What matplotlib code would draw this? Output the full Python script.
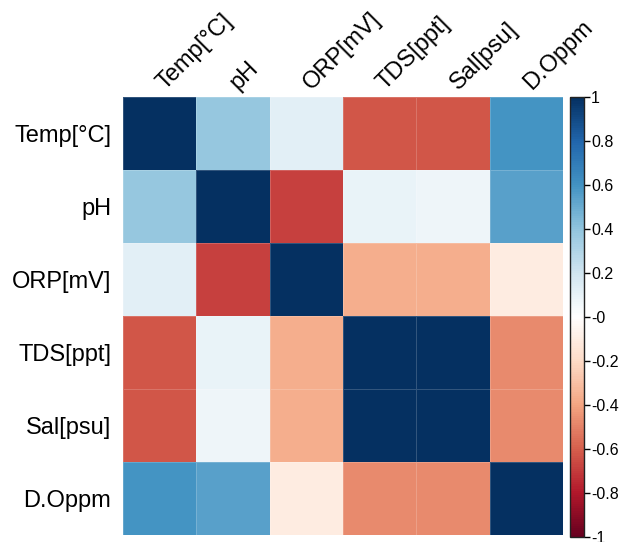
import numpy as np
import matplotlib
matplotlib.use("Agg")
import matplotlib.pyplot as plt
from matplotlib.colors import LinearSegmentedColormap

plt.rcParams['font.family'] = ['Liberation Sans', 'DejaVu Sans']

variables = ["Temp[°C]", "pH", "ORP[mV]", "TDS[ppt]", "Sal[psu]", "D.Oppm"]

# upper-triangle correlations, row by row
temp_row = [0.38, 0.13, -0.63, -0.63, 0.59]
ph_row = [-0.69, 0.09, 0.07, 0.54]
orp_row = [-0.37, -0.37, -0.11]
tds_row = [1.0, -0.48]
sal_row = [-0.48]

n = len(variables)
corr = np.eye(n)
for i, row in enumerate([temp_row, ph_row, orp_row, tds_row, sal_row]):
    for k, v in enumerate(row):
        j = i + 1 + k
        corr[i, j] = v
        corr[j, i] = v

ramp = ["#67001F", "#B2182B", "#D6604D", "#F4A582", "#FDDBC7", "#FFFFFF",
        "#D1E5F0", "#92C5DE", "#4393C3", "#2166AC", "#053061"]
cmap = LinearSegmentedColormap.from_list("corr_rdbu", ramp, N=200)

fig = plt.figure(figsize=(6.23, 5.42), dpi=100)
ax = fig.add_axes([123 / 623, 1 - 535 / 542, 440 / 623, 438 / 542])
im = ax.pcolormesh(np.arange(n + 1) - 0.5, np.arange(n + 1) - 0.5, corr,
                   cmap=cmap, vmin=-1, vmax=1,
                   edgecolors=(1, 1, 1, 0.18), linewidth=0.5)
ax.set_xlim(-0.5, n - 0.5)
ax.set_ylim(n - 0.5, -0.5)

ax.set_yticks(range(n))
ax.set_yticklabels(variables, fontsize=17)
ax.tick_params(axis="y", length=0, pad=8.5)
ax.set_xticks([])
for s in ax.spines.values():
    s.set_visible(False)

for j, name in enumerate(variables):
    ax.text(j + 0.12, -0.54, name, rotation=45, rotation_mode="anchor",
            ha="left", va="bottom", fontsize=17)

ticks = np.round(np.arange(-1, 1.01, 0.2), 1)
cax = fig.add_axes([570 / 623, 1 - 537 / 542, 14 / 623, 440 / 542])
cb = fig.colorbar(im, cax=cax, ticks=ticks)
cb.ax.set_yticklabels([("%g" % t) for t in ticks])
cb.ax.tick_params(length=4, width=1, pad=1, labelsize=11.5, direction="out")
cb.outline.set_linewidth(1.0)
cb.outline.set_edgecolor("#222222")

fig.savefig("out.png", dpi=100)
